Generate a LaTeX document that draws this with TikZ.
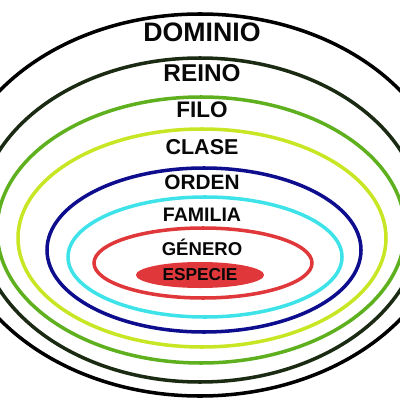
\documentclass[tikz,border=0pt]{standalone}
\usepackage{fontspec}
\setmainfont{Liberation Sans}
\usetikzlibrary{shapes.geometric}
\definecolor{ink}{HTML}{080808}
\definecolor{reino}{HTML}{1B2A12}
\definecolor{filo}{HTML}{5FB01F}
\definecolor{clase}{HTML}{C8E624}
\definecolor{orden}{HTML}{0D0D8E}
\definecolor{familia}{HTML}{3EE3EA}
\definecolor{genero}{HTML}{E0383A}
\begin{document}
\begin{tikzpicture}[x=.025cm,y=-.025cm,line width=2.5pt,
 t/.style={font=\bfseries\fontsize{#1}{#1}\selectfont,text=ink,inner sep=0pt}]
\useasboundingbox (0,0) rectangle (400,400);
\fill[white] (0,0) rectangle (400,400);
\clip (0,0) rectangle (400,400);
% nested ranks, outermost first
\draw[black] (200,205) ellipse (250 and 191);
\draw[reino] (200,220) ellipse (222 and 162);
\draw[filo] (201,230) ellipse (204 and 133);
\draw[clase] (202,238) ellipse (184 and 109);
\draw[orden] (204,250) ellipse (157 and 82);
\draw[familia] (205,257) ellipse (137 and 60);
\draw[genero] (203,263) ellipse (109 and 35);
\node[t=19pt] (dom) at (202,32) {DOMINIO};
\node[t=17.3pt] (rei) at (202,73) {REINO};
\node[t=16pt] (fil) at (202,110) {FILO};
\node[t=15.3pt] (cla) at (202,147) {CLASE};
\node[t=14.8pt] (ord) at (202,182) {ORDEN};
\node[t=13.9pt] (fam) at (202,215) {FAMILIA};
\node[t=13.2pt] (gen) at (202,247) {GÉNERO};
\node[t=12.3pt,ellipse,fill=genero,minimum width=3.2cm,minimum height=.65cm] (esp) at (200,275) {ESPECIE};
\end{tikzpicture}
\end{document}
